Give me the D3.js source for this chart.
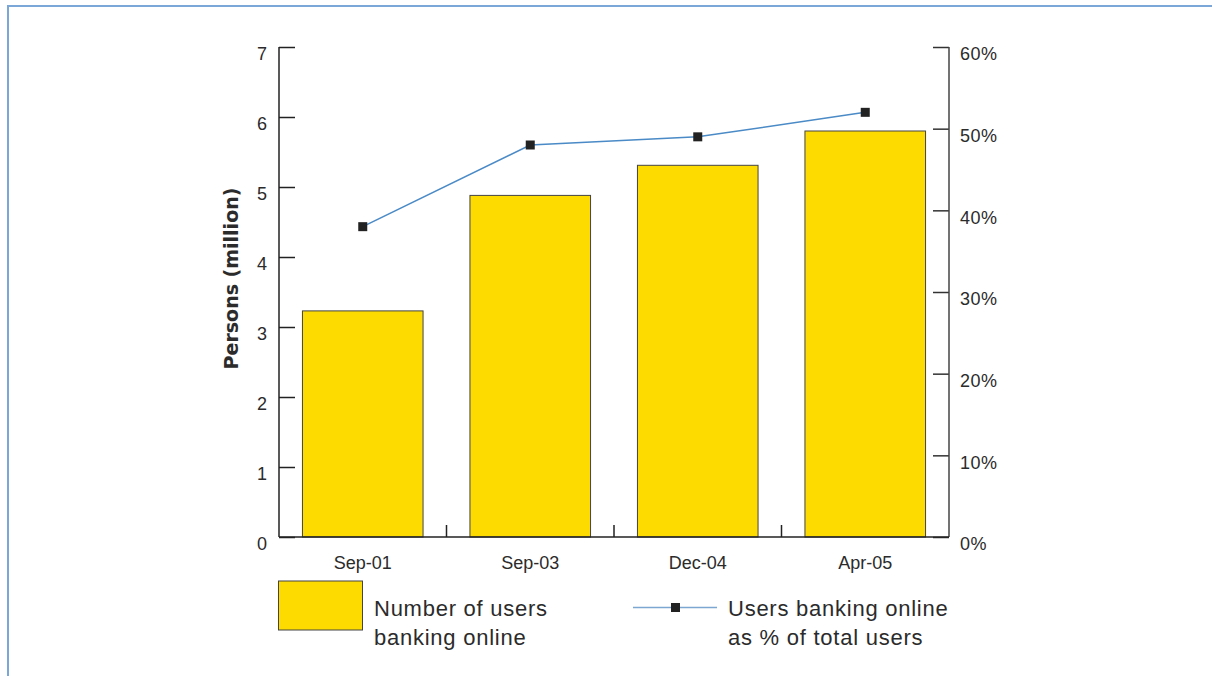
<!DOCTYPE html>
<html>
<head>
<meta charset="utf-8">
<script src="https://cdn.jsdelivr.net/npm/d3@7"></script>
<style>
  html, body { margin: 0; padding: 0; background: #fff; }
  svg { display: block; }
  text { font-family: "Liberation Sans", Arial, sans-serif; fill: #2b2b2b; }
</style>
</head>
<body>
<script>
// Online banking users: count (bars, left axis) and share of all internet users (line, right axis)
const categories = ["Sep-01", "Sep-03", "Dec-04", "Apr-05"];
const usersMillion = [3.23, 4.88, 5.31, 5.80];
const sharePercent = [38, 48, 49, 52];
const leftTicks = [0, 1, 2, 3, 4, 5, 6, 7];
const rightTicks = [0, 10, 20, 30, 40, 50, 60];
const yTitle = "Persons (million)";
const legendBar = ["Number of users", "banking online"];
const legendLine = ["Users banking online", "as % of total users"];

const W = 1212, H = 676;
const plot = { left: 279, right: 949, top: 47, bottom: 537 };

const svg = d3.select("body").append("svg").attr("width", W).attr("height", H);

// outer frame (top and left rules)
svg.append("path")
  .attr("d", `M8,${H} L8,6 L${W},6`)
  .attr("fill", "none").attr("stroke", "#7ba7d8").attr("stroke-width", 2);

const x = d3.scaleBand().domain(categories).range([plot.left, plot.right]).paddingInner(0.28).paddingOuter(0.14);
const xBand = d3.scaleBand().domain(categories).range([plot.left, plot.right]);
const yL = d3.scaleLinear().domain([0, 7]).range([plot.bottom, plot.top]);
const yR = d3.scaleLinear().domain([0, 60]).range([plot.bottom, plot.top]);

// bars
svg.append("g").selectAll("rect").data(categories).join("rect")
  .attr("x", d => x(d))
  .attr("y", (d, i) => yL(usersMillion[i]))
  .attr("width", x.bandwidth())
  .attr("height", (d, i) => yL(0) - yL(usersMillion[i]))
  .attr("fill", "#fedb00")
  .attr("stroke", "#444").attr("stroke-width", 1);

// left axis, ticks pointing inward
const gL = svg.append("g").attr("transform", `translate(${plot.left},0)`)
  .call(d3.axisRight(yL).tickValues(leftTicks).tickSize(16).tickFormat(d3.format("d")));
gL.select(".domain").remove();
gL.selectAll(".tick line").attr("stroke", "#222").attr("stroke-width", 1.5);
gL.selectAll(".tick text").attr("x", -12).attr("dy", "0.72em").attr("text-anchor", "end")
  .style("font-size", "18px").attr("fill", "#2b2b2b");
svg.append("line").attr("x1", plot.left).attr("x2", plot.left)
  .attr("y1", plot.top).attr("y2", plot.bottom).attr("stroke", "#222").attr("stroke-width", 1.5);

// right axis, ticks pointing inward
const gR = svg.append("g").attr("transform", `translate(${plot.right},0)`)
  .call(d3.axisLeft(yR).tickValues(rightTicks).tickSize(16).tickFormat(d => d + "%"));
gR.select(".domain").remove();
gR.selectAll(".tick line").attr("stroke", "#333").attr("stroke-width", 1.5);
gR.selectAll(".tick text").attr("x", 11).attr("dy", "0.72em").attr("text-anchor", "start")
  .style("font-size", "18px").style("letter-spacing", "0.5px").attr("fill", "#2b2b2b");
svg.append("line").attr("x1", plot.right).attr("x2", plot.right)
  .attr("y1", plot.top).attr("y2", plot.bottom).attr("stroke", "#444").attr("stroke-width", 1.5);

// bottom axis: baseline with separators between categories
svg.append("line").attr("x1", plot.left).attr("x2", plot.right)
  .attr("y1", plot.bottom).attr("y2", plot.bottom).attr("stroke", "#222").attr("stroke-width", 1.5);
svg.append("g").selectAll("line").data(categories.slice(1)).join("line")
  .attr("x1", d => xBand(d)).attr("x2", d => xBand(d))
  .attr("y1", plot.bottom).attr("y2", plot.bottom - 12)
  .attr("stroke", "#222").attr("stroke-width", 1.5);
svg.append("g").selectAll("text").data(categories).join("text")
  .attr("x", d => xBand(d) + xBand.bandwidth() / 2)
  .attr("y", plot.bottom + 32)
  .attr("text-anchor", "middle")
  .style("font-size", "18px")
  .text(d => d);

// share line with square markers
const cx = d => xBand(d) + xBand.bandwidth() / 2;
const line = d3.line().x((d, i) => cx(categories[i])).y(d => yR(d));
svg.append("path").datum(sharePercent)
  .attr("d", line).attr("fill", "none").attr("stroke", "#4a8ac6").attr("stroke-width", 1.5);
svg.append("g").selectAll("rect").data(sharePercent).join("rect")
  .attr("x", (d, i) => cx(categories[i]) - 4.5)
  .attr("y", d => yR(d) - 4.5)
  .attr("width", 9).attr("height", 9)
  .attr("fill", "#222");

// y axis title
svg.append("text")
  .attr("transform", "translate(238,278.5) rotate(-90)")
  .attr("text-anchor", "middle")
  .style("font-family", "'DejaVu Sans', sans-serif")
  .style("font-weight", "bold").style("font-size", "19px")
  .attr("fill", "#111")
  .text(yTitle);

// legend
const leg = svg.append("g");
leg.append("rect").attr("x", 278.5).attr("y", 581).attr("width", 84).attr("height", 49)
  .attr("fill", "#fedb00").attr("stroke", "#444").attr("stroke-width", 1);
leg.append("text").attr("x", 374).attr("y", 616)
  .style("font-size", "22px").style("letter-spacing", "0.75px")
  .selectAll("tspan").data(legendBar).join("tspan")
  .attr("x", 374).attr("dy", (d, i) => i ? 29 : 0).text(d => d);
leg.append("line").attr("x1", 633).attr("x2", 717).attr("y1", 607.5).attr("y2", 607.5)
  .attr("stroke", "#7ba7d2").attr("stroke-width", 1.5);
leg.append("rect").attr("x", 671).attr("y", 603).attr("width", 9).attr("height", 9).attr("fill", "#222");
leg.append("text").attr("x", 728).attr("y", 616)
  .style("font-size", "22px").style("letter-spacing", "0.75px")
  .selectAll("tspan").data(legendLine).join("tspan")
  .attr("x", 728).attr("dy", (d, i) => i ? 29 : 0).text(d => d);
</script>
</body>
</html>
